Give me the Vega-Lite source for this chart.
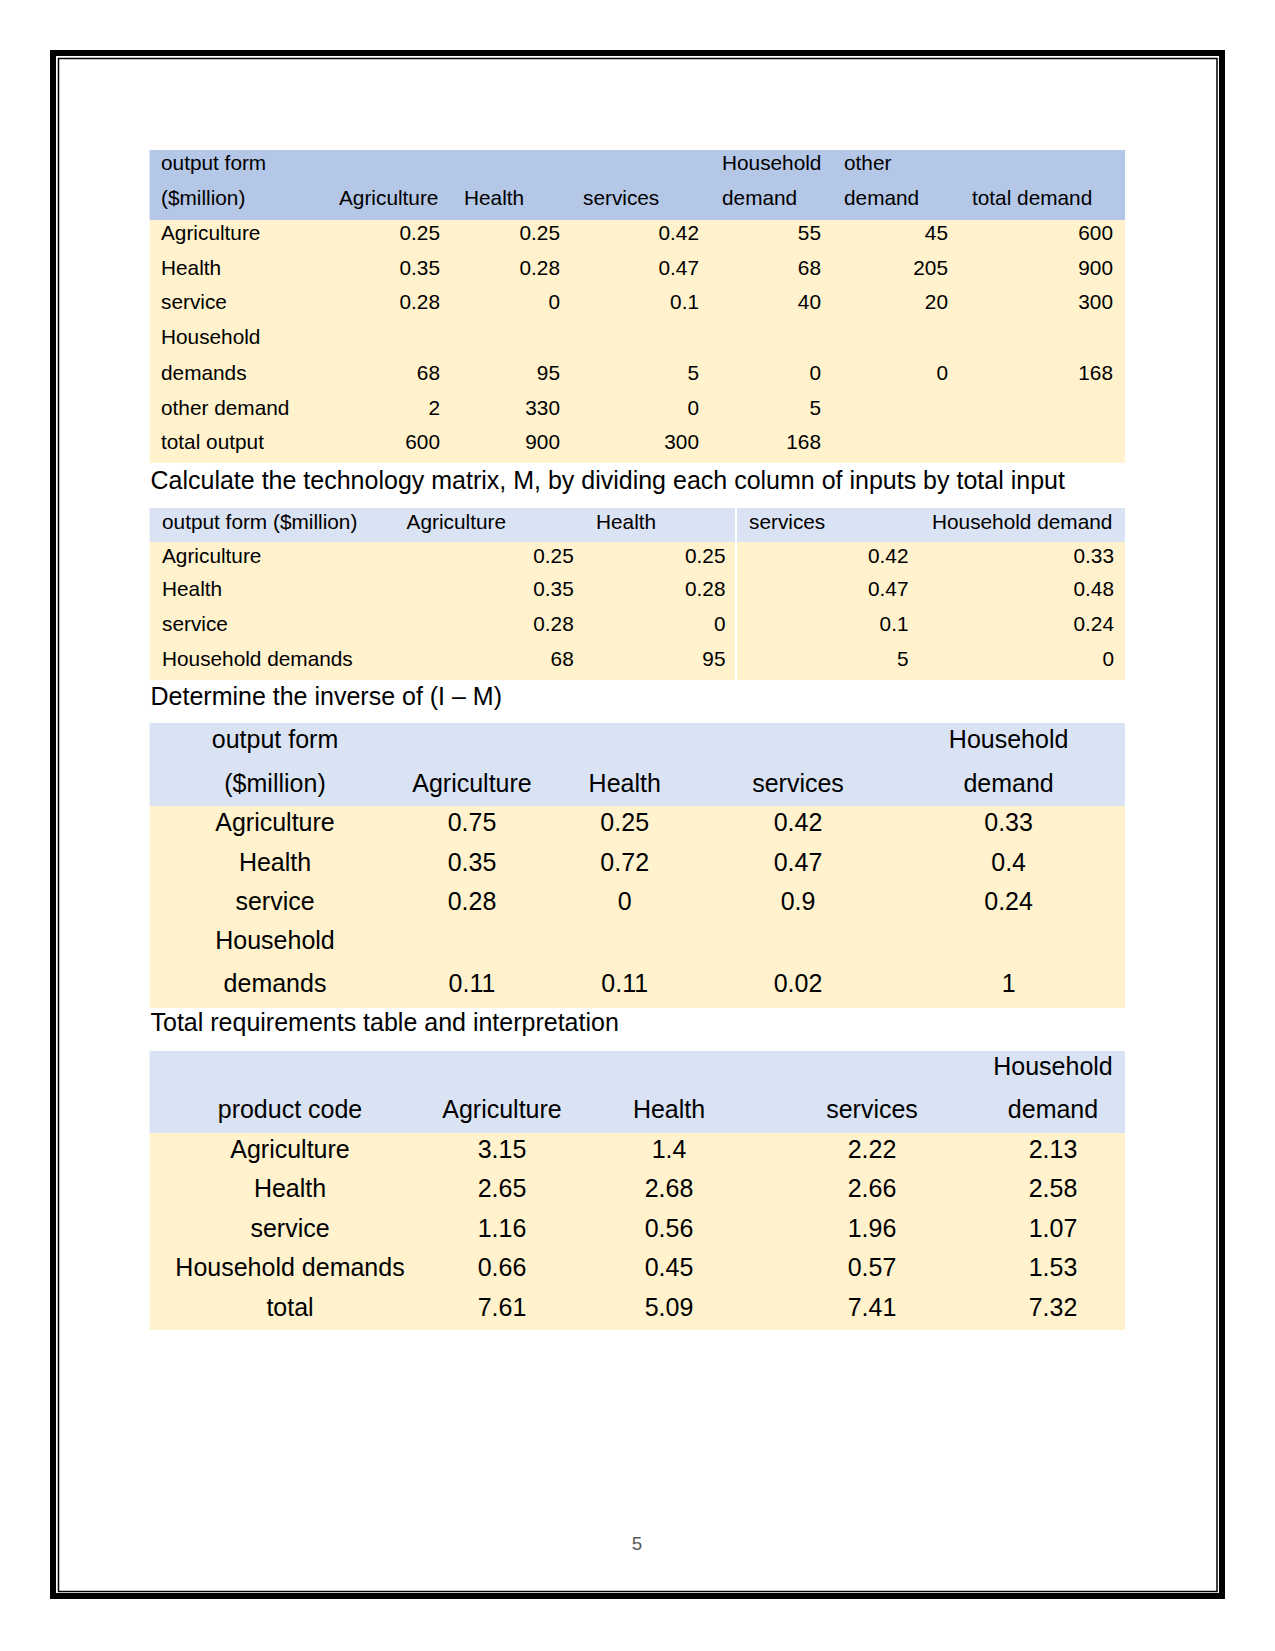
{
  "$schema": "https://vega.github.io/schema/vega-lite/v6.json",
  "width": 1275,
  "height": 1651,
  "autosize": {"type": "fit", "contains": "padding"},
  "padding": 0,
  "background": "white",
  "config": {"view": {"stroke": null}},
  "datasets": {
    "frame": [
      {"f": "outer", "x0": 0, "x1": 3, "y0": 0, "y1": 3},
      {"f": "inner", "x0": 1, "x1": 2, "y0": 1, "y1": 2}
    ],
    "bg": [
      {"part": "h1", "a": 0.5, "b": 2.5},
      {"part": "b", "a": 2.5, "b": 9.5},
      {"part": "h", "a": 10.5, "b": 11.5},
      {"part": "b", "a": 11.5, "b": 15.5},
      {"part": "h", "a": 16.5, "b": 18.5},
      {"part": "b", "a": 18.5, "b": 23.5},
      {"part": "h", "a": 24.5, "b": 26.5},
      {"part": "b", "a": 26.5, "b": 31.5}
    ],
    "sep": [{"g": 2}],
    "t1L": [
      {"r": 1, "c": 0, "s": "output form"},
      {"r": 1, "c": 4, "s": "Household"},
      {"r": 1, "c": 5, "s": "other"},
      {"r": 2, "c": 0, "s": "($million)"},
      {"r": 2, "c": 1, "s": "Agriculture"},
      {"r": 2, "c": 2, "s": "Health"},
      {"r": 2, "c": 3, "s": "services"},
      {"r": 2, "c": 4, "s": "demand"},
      {"r": 2, "c": 5, "s": "demand"},
      {"r": 2, "c": 6, "s": "total demand"},
      {"r": 3, "c": 0, "s": "Agriculture"},
      {"r": 4, "c": 0, "s": "Health"},
      {"r": 5, "c": 0, "s": "service"},
      {"r": 6, "c": 0, "s": "Household"},
      {"r": 7, "c": 0, "s": "demands"},
      {"r": 8, "c": 0, "s": "other demand"},
      {"r": 9, "c": 0, "s": "total output"}
    ],
    "t1R": [
      {"r": 3, "c": 1, "s": "0.25"}, {"r": 3, "c": 2, "s": "0.25"}, {"r": 3, "c": 3, "s": "0.42"}, {"r": 3, "c": 4, "s": "55"}, {"r": 3, "c": 5, "s": "45"}, {"r": 3, "c": 6, "s": "600"},
      {"r": 4, "c": 1, "s": "0.35"}, {"r": 4, "c": 2, "s": "0.28"}, {"r": 4, "c": 3, "s": "0.47"}, {"r": 4, "c": 4, "s": "68"}, {"r": 4, "c": 5, "s": "205"}, {"r": 4, "c": 6, "s": "900"},
      {"r": 5, "c": 1, "s": "0.28"}, {"r": 5, "c": 2, "s": "0"}, {"r": 5, "c": 3, "s": "0.1"}, {"r": 5, "c": 4, "s": "40"}, {"r": 5, "c": 5, "s": "20"}, {"r": 5, "c": 6, "s": "300"},
      {"r": 7, "c": 1, "s": "68"}, {"r": 7, "c": 2, "s": "95"}, {"r": 7, "c": 3, "s": "5"}, {"r": 7, "c": 4, "s": "0"}, {"r": 7, "c": 5, "s": "0"}, {"r": 7, "c": 6, "s": "168"},
      {"r": 8, "c": 1, "s": "2"}, {"r": 8, "c": 2, "s": "330"}, {"r": 8, "c": 3, "s": "0"}, {"r": 8, "c": 4, "s": "5"},
      {"r": 9, "c": 1, "s": "600"}, {"r": 9, "c": 2, "s": "900"}, {"r": 9, "c": 3, "s": "300"}, {"r": 9, "c": 4, "s": "168"}
    ],
    "t2L": [
      {"r": 11, "c": 0, "s": "output form ($million)"},
      {"r": 11, "c": 1, "s": "Agriculture"},
      {"r": 11, "c": 2, "s": "Health"},
      {"r": 11, "c": 3, "s": "services"},
      {"r": 11, "c": 4, "s": "Household demand"},
      {"r": 12, "c": 0, "s": "Agriculture"},
      {"r": 13, "c": 0, "s": "Health"},
      {"r": 14, "c": 0, "s": "service"},
      {"r": 15, "c": 0, "s": "Household demands"}
    ],
    "t2R": [
      {"r": 12, "c": 1, "s": "0.25"}, {"r": 12, "c": 2, "s": "0.25"}, {"r": 12, "c": 3, "s": "0.42"}, {"r": 12, "c": 4, "s": "0.33"},
      {"r": 13, "c": 1, "s": "0.35"}, {"r": 13, "c": 2, "s": "0.28"}, {"r": 13, "c": 3, "s": "0.47"}, {"r": 13, "c": 4, "s": "0.48"},
      {"r": 14, "c": 1, "s": "0.28"}, {"r": 14, "c": 2, "s": "0"}, {"r": 14, "c": 3, "s": "0.1"}, {"r": 14, "c": 4, "s": "0.24"},
      {"r": 15, "c": 1, "s": "68"}, {"r": 15, "c": 2, "s": "95"}, {"r": 15, "c": 3, "s": "5"}, {"r": 15, "c": 4, "s": "0"}
    ],
    "t3": [
      {"r": 17, "c": 0, "s": "output form"}, {"r": 17, "c": 4, "s": "Household"},
      {"r": 18, "c": 0, "s": "($million)"}, {"r": 18, "c": 1, "s": "Agriculture"}, {"r": 18, "c": 2, "s": "Health"}, {"r": 18, "c": 3, "s": "services"}, {"r": 18, "c": 4, "s": "demand"},
      {"r": 19, "c": 0, "s": "Agriculture"}, {"r": 19, "c": 1, "s": "0.75"}, {"r": 19, "c": 2, "s": "0.25"}, {"r": 19, "c": 3, "s": "0.42"}, {"r": 19, "c": 4, "s": "0.33"},
      {"r": 20, "c": 0, "s": "Health"}, {"r": 20, "c": 1, "s": "0.35"}, {"r": 20, "c": 2, "s": "0.72"}, {"r": 20, "c": 3, "s": "0.47"}, {"r": 20, "c": 4, "s": "0.4"},
      {"r": 21, "c": 0, "s": "service"}, {"r": 21, "c": 1, "s": "0.28"}, {"r": 21, "c": 2, "s": "0"}, {"r": 21, "c": 3, "s": "0.9"}, {"r": 21, "c": 4, "s": "0.24"},
      {"r": 22, "c": 0, "s": "Household"},
      {"r": 23, "c": 0, "s": "demands"}, {"r": 23, "c": 1, "s": "0.11"}, {"r": 23, "c": 2, "s": "0.11"}, {"r": 23, "c": 3, "s": "0.02"}, {"r": 23, "c": 4, "s": "1"}
    ],
    "t4": [
      {"r": 25, "c": 4, "s": "Household"},
      {"r": 26, "c": 0, "s": "product code"}, {"r": 26, "c": 1, "s": "Agriculture"}, {"r": 26, "c": 2, "s": "Health"}, {"r": 26, "c": 3, "s": "services"}, {"r": 26, "c": 4, "s": "demand"},
      {"r": 27, "c": 0, "s": "Agriculture"}, {"r": 27, "c": 1, "s": "3.15"}, {"r": 27, "c": 2, "s": "1.4"}, {"r": 27, "c": 3, "s": "2.22"}, {"r": 27, "c": 4, "s": "2.13"},
      {"r": 28, "c": 0, "s": "Health"}, {"r": 28, "c": 1, "s": "2.65"}, {"r": 28, "c": 2, "s": "2.68"}, {"r": 28, "c": 3, "s": "2.66"}, {"r": 28, "c": 4, "s": "2.58"},
      {"r": 29, "c": 0, "s": "service"}, {"r": 29, "c": 1, "s": "1.16"}, {"r": 29, "c": 2, "s": "0.56"}, {"r": 29, "c": 3, "s": "1.96"}, {"r": 29, "c": 4, "s": "1.07"},
      {"r": 30, "c": 0, "s": "Household demands"}, {"r": 30, "c": 1, "s": "0.66"}, {"r": 30, "c": 2, "s": "0.45"}, {"r": 30, "c": 3, "s": "0.57"}, {"r": 30, "c": 4, "s": "1.53"},
      {"r": 31, "c": 0, "s": "total"}, {"r": 31, "c": 1, "s": "7.61"}, {"r": 31, "c": 2, "s": "5.09"}, {"r": 31, "c": 3, "s": "7.41"}, {"r": 31, "c": 4, "s": "7.32"}
    ],
    "titles": [
      {"r": 10, "c": 0, "s": "Calculate the technology matrix, M, by dividing each column of inputs by total input"},
      {"r": 16, "c": 0, "s": "Determine the inverse of (I – M)"},
      {"r": 24, "c": 0, "s": "Total requirements table and interpretation"}
    ],
    "pagenum": [{"r": 32, "c": 0, "s": "5"}]
  },
  "resolve": {"scale": {"x": "independent", "y": "independent", "color": "independent", "strokeWidth": "independent"}},
  "layer": [
    {
      "data": {"name": "bg"},
      "mark": {"type": "rect"},
      "encoding": {
        "x": {"datum": 0, "type": "quantitative", "axis": null, "scale": {"domain": [0, 1], "range": [149.6, 1125], "zero": false, "nice": false}},
        "x2": {"datum": 1},
        "y": {"field": "a", "type": "quantitative", "axis": null, "scale": {"domain": [0.5, 1, 2, 2.5, 3, 4, 5, 6, 7, 8, 9, 9.5, 10, 10.5, 11, 11.5, 12, 13, 14, 15, 15.5, 16, 16.5, 17, 18, 18.5, 19, 20, 21, 22, 23, 23.5, 24, 24.5, 25, 26, 26.5, 27, 28, 29, 30, 31, 31.5, 32], "range": [150, 163, 198, 220, 233, 268, 302, 337, 373, 408, 442, 463, 480, 508, 522, 542, 556, 589, 624, 659, 680, 696, 723, 739, 783, 806, 822, 862, 901, 940, 983, 1008, 1022, 1051, 1066, 1109, 1133, 1149, 1188, 1228, 1267, 1307, 1330, 1543], "zero": false, "nice": false}},
        "y2": {"field": "b"},
        "color": {"field": "part", "type": "nominal", "legend": null, "scale": {"domain": ["h1", "h", "b"], "range": ["#b4c7e7", "#dae3f3", "#fff2cc"]}}
      }
    },
    {
      "data": {"name": "sep"},
      "mark": {"type": "rule", "color": "white", "strokeWidth": 2},
      "encoding": {
        "x": {"field": "g", "type": "quantitative", "axis": null, "scale": {"domain": [0, 2, 4], "range": [149.6, 736, 1125], "zero": false, "nice": false}},
        "y": {"datum": 10.5, "type": "quantitative", "axis": null, "scale": {"domain": [0.5, 1, 2, 2.5, 3, 4, 5, 6, 7, 8, 9, 9.5, 10, 10.5, 11, 11.5, 12, 13, 14, 15, 15.5, 16, 16.5, 17, 18, 18.5, 19, 20, 21, 22, 23, 23.5, 24, 24.5, 25, 26, 26.5, 27, 28, 29, 30, 31, 31.5, 32], "range": [150, 163, 198, 220, 233, 268, 302, 337, 373, 408, 442, 463, 480, 508, 522, 542, 556, 589, 624, 659, 680, 696, 723, 739, 783, 806, 822, 862, 901, 940, 983, 1008, 1022, 1051, 1066, 1109, 1133, 1149, 1188, 1228, 1267, 1307, 1330, 1543], "zero": false, "nice": false}},
        "y2": {"datum": 15.5}
      }
    },
    {
      "data": {"name": "frame"},
      "mark": {"type": "rect", "fill": null, "fillOpacity": 0, "stroke": "black"},
      "encoding": {
        "x": {"field": "x0", "type": "quantitative", "axis": null, "scale": {"domain": [0, 1, 2, 3], "range": [53, 58.5, 1217, 1222], "zero": false, "nice": false}},
        "x2": {"field": "x1"},
        "y": {"field": "y0", "type": "quantitative", "axis": null, "scale": {"domain": [0, 1, 2, 3], "range": [53, 58.5, 1591.5, 1596], "zero": false, "nice": false}},
        "y2": {"field": "y1"},
        "strokeWidth": {"field": "f", "type": "nominal", "legend": null, "scale": {"domain": ["outer", "inner"], "range": [6, 1.5]}}
      }
    },
    {
      "data": {"name": "t1L"},
      "mark": {"type": "text", "align": "left", "baseline": "middle", "font": "Liberation Sans", "fontSize": 20.8, "color": "black", "dy": 1},
      "encoding": {
        "x": {"field": "c", "type": "quantitative", "axis": null, "scale": {"domain": [0, 1, 2, 3, 4, 5, 6], "range": [161, 339, 464, 583, 722, 844, 972], "zero": false, "nice": false}},
        "y": {"field": "r", "type": "quantitative", "axis": null, "scale": {"domain": [0.5, 1, 2, 2.5, 3, 4, 5, 6, 7, 8, 9, 9.5, 10, 10.5, 11, 11.5, 12, 13, 14, 15, 15.5, 16, 16.5, 17, 18, 18.5, 19, 20, 21, 22, 23, 23.5, 24, 24.5, 25, 26, 26.5, 27, 28, 29, 30, 31, 31.5, 32], "range": [150, 163, 198, 220, 233, 268, 302, 337, 373, 408, 442, 463, 480, 508, 522, 542, 556, 589, 624, 659, 680, 696, 723, 739, 783, 806, 822, 862, 901, 940, 983, 1008, 1022, 1051, 1066, 1109, 1133, 1149, 1188, 1228, 1267, 1307, 1330, 1543], "zero": false, "nice": false}},
        "text": {"field": "s"}
      }
    },
    {
      "data": {"name": "t1R"},
      "mark": {"type": "text", "align": "right", "baseline": "middle", "font": "Liberation Sans", "fontSize": 20.8, "color": "black", "dy": 1},
      "encoding": {
        "x": {"field": "c", "type": "quantitative", "axis": null, "scale": {"domain": [1, 2, 3, 4, 5, 6], "range": [440, 560, 699, 821, 948, 1113], "zero": false, "nice": false}},
        "y": {"field": "r", "type": "quantitative", "axis": null, "scale": {"domain": [0.5, 1, 2, 2.5, 3, 4, 5, 6, 7, 8, 9, 9.5, 10, 10.5, 11, 11.5, 12, 13, 14, 15, 15.5, 16, 16.5, 17, 18, 18.5, 19, 20, 21, 22, 23, 23.5, 24, 24.5, 25, 26, 26.5, 27, 28, 29, 30, 31, 31.5, 32], "range": [150, 163, 198, 220, 233, 268, 302, 337, 373, 408, 442, 463, 480, 508, 522, 542, 556, 589, 624, 659, 680, 696, 723, 739, 783, 806, 822, 862, 901, 940, 983, 1008, 1022, 1051, 1066, 1109, 1133, 1149, 1188, 1228, 1267, 1307, 1330, 1543], "zero": false, "nice": false}},
        "text": {"field": "s"}
      }
    },
    {
      "data": {"name": "t2L"},
      "mark": {"type": "text", "align": "left", "baseline": "middle", "font": "Liberation Sans", "fontSize": 20.8, "color": "black", "dy": 1},
      "encoding": {
        "x": {"field": "c", "type": "quantitative", "axis": null, "scale": {"domain": [0, 1, 2, 3, 4], "range": [162, 406.6, 596, 749, 932], "zero": false, "nice": false}},
        "y": {"field": "r", "type": "quantitative", "axis": null, "scale": {"domain": [0.5, 1, 2, 2.5, 3, 4, 5, 6, 7, 8, 9, 9.5, 10, 10.5, 11, 11.5, 12, 13, 14, 15, 15.5, 16, 16.5, 17, 18, 18.5, 19, 20, 21, 22, 23, 23.5, 24, 24.5, 25, 26, 26.5, 27, 28, 29, 30, 31, 31.5, 32], "range": [150, 163, 198, 220, 233, 268, 302, 337, 373, 408, 442, 463, 480, 508, 522, 542, 556, 589, 624, 659, 680, 696, 723, 739, 783, 806, 822, 862, 901, 940, 983, 1008, 1022, 1051, 1066, 1109, 1133, 1149, 1188, 1228, 1267, 1307, 1330, 1543], "zero": false, "nice": false}},
        "text": {"field": "s"}
      }
    },
    {
      "data": {"name": "t2R"},
      "mark": {"type": "text", "align": "right", "baseline": "middle", "font": "Liberation Sans", "fontSize": 20.8, "color": "black", "dy": 1},
      "encoding": {
        "x": {"field": "c", "type": "quantitative", "axis": null, "scale": {"domain": [1, 2, 3, 4], "range": [573.7, 725.5, 908.5, 1114], "zero": false, "nice": false}},
        "y": {"field": "r", "type": "quantitative", "axis": null, "scale": {"domain": [0.5, 1, 2, 2.5, 3, 4, 5, 6, 7, 8, 9, 9.5, 10, 10.5, 11, 11.5, 12, 13, 14, 15, 15.5, 16, 16.5, 17, 18, 18.5, 19, 20, 21, 22, 23, 23.5, 24, 24.5, 25, 26, 26.5, 27, 28, 29, 30, 31, 31.5, 32], "range": [150, 163, 198, 220, 233, 268, 302, 337, 373, 408, 442, 463, 480, 508, 522, 542, 556, 589, 624, 659, 680, 696, 723, 739, 783, 806, 822, 862, 901, 940, 983, 1008, 1022, 1051, 1066, 1109, 1133, 1149, 1188, 1228, 1267, 1307, 1330, 1543], "zero": false, "nice": false}},
        "text": {"field": "s"}
      }
    },
    {
      "data": {"name": "t3"},
      "mark": {"type": "text", "align": "center", "baseline": "middle", "font": "Liberation Sans", "fontSize": 25, "color": "black", "dy": 1},
      "encoding": {
        "x": {"field": "c", "type": "quantitative", "axis": null, "scale": {"domain": [0, 1, 2, 3, 4], "range": [275, 472, 624.7, 798, 1008.6], "zero": false, "nice": false}},
        "y": {"field": "r", "type": "quantitative", "axis": null, "scale": {"domain": [0.5, 1, 2, 2.5, 3, 4, 5, 6, 7, 8, 9, 9.5, 10, 10.5, 11, 11.5, 12, 13, 14, 15, 15.5, 16, 16.5, 17, 18, 18.5, 19, 20, 21, 22, 23, 23.5, 24, 24.5, 25, 26, 26.5, 27, 28, 29, 30, 31, 31.5, 32], "range": [150, 163, 198, 220, 233, 268, 302, 337, 373, 408, 442, 463, 480, 508, 522, 542, 556, 589, 624, 659, 680, 696, 723, 739, 783, 806, 822, 862, 901, 940, 983, 1008, 1022, 1051, 1066, 1109, 1133, 1149, 1188, 1228, 1267, 1307, 1330, 1543], "zero": false, "nice": false}},
        "text": {"field": "s"}
      }
    },
    {
      "data": {"name": "t4"},
      "mark": {"type": "text", "align": "center", "baseline": "middle", "font": "Liberation Sans", "fontSize": 25, "color": "black", "dy": 1},
      "encoding": {
        "x": {"field": "c", "type": "quantitative", "axis": null, "scale": {"domain": [0, 1, 2, 3, 4], "range": [290, 502, 669, 872, 1053], "zero": false, "nice": false}},
        "y": {"field": "r", "type": "quantitative", "axis": null, "scale": {"domain": [0.5, 1, 2, 2.5, 3, 4, 5, 6, 7, 8, 9, 9.5, 10, 10.5, 11, 11.5, 12, 13, 14, 15, 15.5, 16, 16.5, 17, 18, 18.5, 19, 20, 21, 22, 23, 23.5, 24, 24.5, 25, 26, 26.5, 27, 28, 29, 30, 31, 31.5, 32], "range": [150, 163, 198, 220, 233, 268, 302, 337, 373, 408, 442, 463, 480, 508, 522, 542, 556, 589, 624, 659, 680, 696, 723, 739, 783, 806, 822, 862, 901, 940, 983, 1008, 1022, 1051, 1066, 1109, 1133, 1149, 1188, 1228, 1267, 1307, 1330, 1543], "zero": false, "nice": false}},
        "text": {"field": "s"}
      }
    },
    {
      "data": {"name": "titles"},
      "mark": {"type": "text", "align": "left", "baseline": "middle", "font": "Liberation Sans", "fontSize": 25, "color": "black", "dy": 1},
      "encoding": {
        "x": {"field": "c", "type": "quantitative", "axis": null, "scale": {"domain": [0, 1], "range": [150.5, 1125], "zero": false, "nice": false}},
        "y": {"field": "r", "type": "quantitative", "axis": null, "scale": {"domain": [0.5, 1, 2, 2.5, 3, 4, 5, 6, 7, 8, 9, 9.5, 10, 10.5, 11, 11.5, 12, 13, 14, 15, 15.5, 16, 16.5, 17, 18, 18.5, 19, 20, 21, 22, 23, 23.5, 24, 24.5, 25, 26, 26.5, 27, 28, 29, 30, 31, 31.5, 32], "range": [150, 163, 198, 220, 233, 268, 302, 337, 373, 408, 442, 463, 480, 508, 522, 542, 556, 589, 624, 659, 680, 696, 723, 739, 783, 806, 822, 862, 901, 940, 983, 1008, 1022, 1051, 1066, 1109, 1133, 1149, 1188, 1228, 1267, 1307, 1330, 1543], "zero": false, "nice": false}},
        "text": {"field": "s"}
      }
    },
    {
      "data": {"name": "pagenum"},
      "mark": {"type": "text", "align": "center", "baseline": "middle", "font": "Liberation Sans", "fontSize": 18.75, "color": "#595959", "dy": 1},
      "encoding": {
        "x": {"field": "c", "type": "quantitative", "axis": null, "scale": {"domain": [0, 1], "range": [637, 1125], "zero": false, "nice": false}},
        "y": {"field": "r", "type": "quantitative", "axis": null, "scale": {"domain": [0.5, 1, 2, 2.5, 3, 4, 5, 6, 7, 8, 9, 9.5, 10, 10.5, 11, 11.5, 12, 13, 14, 15, 15.5, 16, 16.5, 17, 18, 18.5, 19, 20, 21, 22, 23, 23.5, 24, 24.5, 25, 26, 26.5, 27, 28, 29, 30, 31, 31.5, 32], "range": [150, 163, 198, 220, 233, 268, 302, 337, 373, 408, 442, 463, 480, 508, 522, 542, 556, 589, 624, 659, 680, 696, 723, 739, 783, 806, 822, 862, 901, 940, 983, 1008, 1022, 1051, 1066, 1109, 1133, 1149, 1188, 1228, 1267, 1307, 1330, 1543], "zero": false, "nice": false}},
        "text": {"field": "s"}
      }
    }
  ]
}
